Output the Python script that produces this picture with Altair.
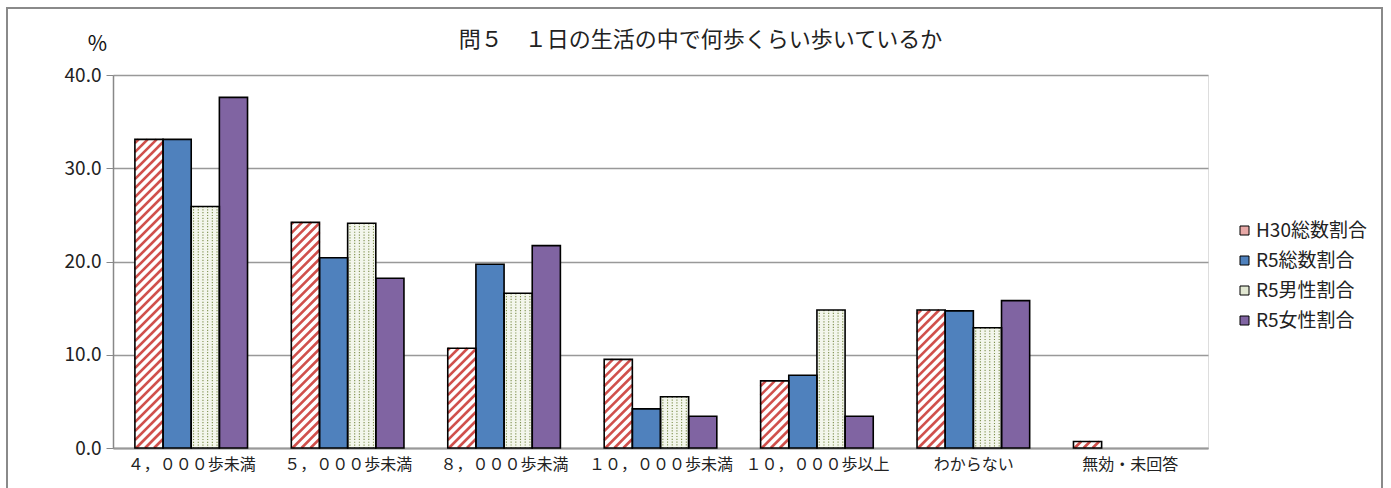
import altair as alt
import pandas as pd

categories = ["４，０００歩未満", "５，０００歩未満", "８，０００歩未満", "１０，０００歩未満",
              "１０，０００歩以上", "わからない", "無効・未回答"]
series = ["H30総数割合", "R5総数割合", "R5男性割合", "R5女性割合"]
h30 = [33.1, 24.2, 10.7, 9.5, 7.2, 14.8, 0.7]
r5_total = [33.1, 20.4, 19.7, 4.2, 7.8, 14.7, 0.0]
r5_male = [25.9, 24.1, 16.6, 5.5, 14.8, 12.9, 0.0]
r5_female = [37.6, 18.2, 21.7, 3.4, 3.4, 15.8, 0.0]
y_ticks = [0, 10, 20, 30, 40]

FONT = "Noto Sans CJK JP"
W, H = 1095, 373
YMAX = 40
xpx = W / len(categories)
ypx = H / YMAX
BAR = 0.18
START = 0.14

rows = []
for k, vals in enumerate([h30, r5_total, r5_male, r5_female]):
    for i, v in enumerate(vals):
        xl = i + START + k * BAR
        rows.append({"cat": categories[i], "series": series[k], "value": v,
                     "base": 0.0, "xl": xl, "xr": xl + BAR})
df = pd.DataFrame(rows)
df = df[df["value"] > 0]

# diagonal hatch for H30 bars (45 degrees in pixels)
s = xpx / ypx
step = 9 / ypx
stripes = []
for _, r in df[df["series"] == series[0]].iterrows():
    v = r["value"]
    b = -s * BAR
    while b < v:
        xa = max(0.0, (0 - b) / s)
        xb = min(BAR, (v - b) / s)
        if xb > xa:
            stripes.append({"xl": r["xl"] + xa, "xr": r["xl"] + xb,
                            "value": b + s * xa, "base": b + s * xb})
        b += step
sdf = pd.DataFrame(stripes)

# dotted columns for R5 male
dots = []
ncol = 6
for _, r in df[df["series"] == series[2]].iterrows():
    for c in range(ncol):
        dots.append({"xl": r["xl"] + BAR * (c + 0.5) / ncol, "value": r["value"], "base": 0.0})
ddf = pd.DataFrame(dots)

xscale = alt.Scale(domain=[0, len(categories)], nice=False, zero=False)
yscale = alt.Scale(domain=[0, YMAX], nice=False)

label_arr = "[" + ",".join("'" + c + "'" for c in categories) + "]"

xaxis = alt.Axis(values=[i + 0.5 for i in range(len(categories))],
                 labelExpr=label_arr + "[floor(datum.value)]",
                 ticks=False, grid=False, title=None,
                 domainColor="#999999", domainWidth=2,
                 labelFont=FONT, labelFontSize=16, labelColor="#222222",
                 labelPadding=8)
yaxis = alt.Axis(values=y_ticks, format=".1f", title="%",
                 titleAngle=0, titleX=-16, titleY=-31,
                 titleAlign="center", titleBaseline="middle",
                 titleFont=FONT, titleFontSize=21, titleFontWeight="normal",
                 titleColor="#111111",
                 labelFont=FONT, labelFontSize=19, labelColor="#222222",
                 labelPadding=5, tickSize=7, tickColor="#888888",
                 domainColor="#888888", domainWidth=1.5,
                 gridColor="#999999", gridWidth=1.5)

X = alt.X("xl:Q", scale=xscale, axis=xaxis)
Y = alt.Y("value:Q", scale=yscale, axis=yaxis)

base = alt.Chart(df).mark_bar(strokeWidth=0).encode(
    x=X, x2="xr", y=Y, y2="base",
    color=alt.Color("series:N",
                    scale=alt.Scale(domain=series,
                                    range=["#e8a9a7", "#4f81bd", "#e2e8d2", "#8064a2"]),
                    legend=alt.Legend(title=None, orient="none", legendX=1122, legendY=146,
                                      symbolType="square", symbolSize=81,
                                      symbolStrokeColor="black", symbolStrokeWidth=1,
                                      symbolOpacity=1,
                                      labelFont=FONT, labelFontSize=19,
                                      labelColor="#222222", rowPadding=10,
                                      labelOffset=2)),
)

white = alt.Chart(df).transform_filter(
    alt.datum.series == series[0]).mark_bar(fill="white", strokeWidth=0).encode(
    x=X, x2="xr", y=Y, y2="base")

light = alt.Chart(df).transform_filter(
    alt.datum.series == series[2]).mark_bar(fill="#f3f6ec", strokeWidth=0).encode(
    x=X, x2="xr", y=Y, y2="base")

hatch = alt.Chart(sdf).mark_rule(color="#d0504c", strokeWidth=2.6).encode(
    x=X, x2="xr", y=Y, y2="base")

dotted = alt.Chart(ddf).mark_rule(color="#7d8f4c", strokeWidth=1.1,
                                  strokeDash=[1.2, 1.6]).encode(
    x=X, y=Y, y2="base")

outline = alt.Chart(df).mark_bar(fillOpacity=0, stroke="black", strokeWidth=1.6).encode(
    x=X, x2="xr", y=Y, y2="base")

frame = alt.Chart(df).mark_rect(fill="transparent", stroke="#8a8a8a", strokeWidth=1.5).encode(
    x=alt.value(-106), x2=alt.value(1269), y=alt.value(-67), y2=alt.value(440))

chart = alt.layer(base, white, light, hatch, dotted, outline, frame).properties(
    width=W, height=H,
    title=alt.TitleParams("問５　１日の生活の中で何歩くらい歩いているか",
                          font=FONT, fontSize=22, fontWeight="normal",
                          color="#222222", anchor="middle", frame="group",
                          dx=40, offset=0, dy=45),
    autosize=alt.AutoSizeParams(type="none"),
    padding={"left": 113, "top": 75, "right": 183, "bottom": 40},
).configure_view(stroke=None).configure(background="white")

chart.save("out.html", embed_options={"renderer": "svg", "actions": False})
